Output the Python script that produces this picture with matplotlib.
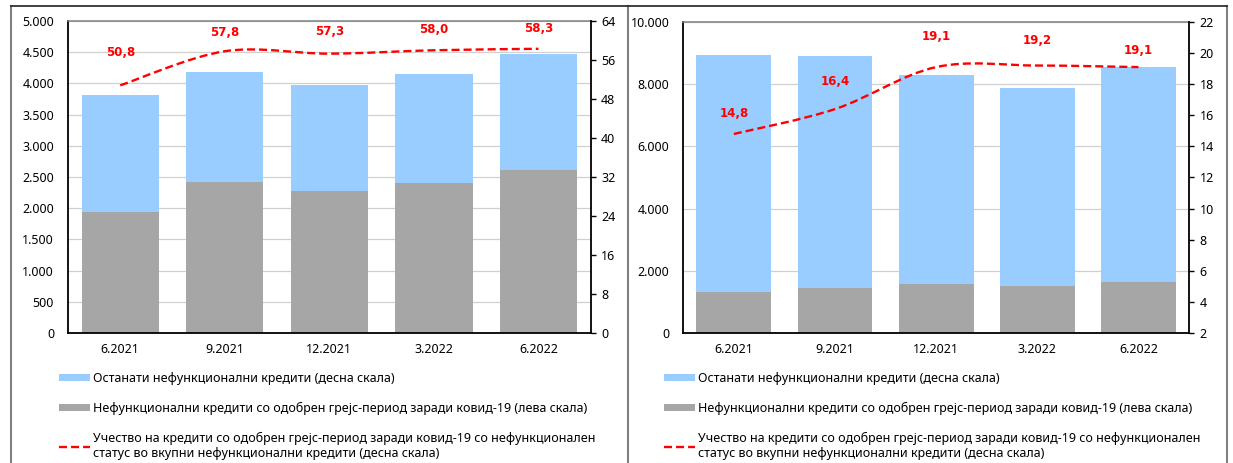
import matplotlib.pyplot as plt
from matplotlib.path import Path
from matplotlib.patches import PathPatch, Patch
from matplotlib.lines import Line2D
from matplotlib.ticker import FuncFormatter, MultipleLocator

plt.rcParams['font.family'] = ['Noto Sans', 'DejaVu Sans']

quarters = ['6.2021', '9.2021', '12.2021', '3.2022', '6.2022']

# лев график
covid_npl_1 = [1935, 2418, 2280, 2408, 2607]
other_npl_1 = [1874, 1765, 1699, 1743, 1864]
share_1 = [50.8, 57.8, 57.3, 58.0, 58.3]

# десен график
covid_npl_2 = [1323, 1461, 1585, 1511, 1632]
other_npl_2 = [7616, 7446, 6711, 6357, 6911]
share_2 = [14.8, 16.4, 19.1, 19.2, 19.1]

legend_labels = [
    'Останати нефункционални кредити (десна скала)',
    'Нефункционални кредити со одобрен грејс-период заради ковид-19 (лева скала)',
    'Учество на кредити со одобрен грејс-период заради ковид-19 со нефункционален\n'
    'статус во вкупни нефункционални кредити (десна скала)',
]

BLUE = '#99ccff'
GRAY = '#a6a6a6'
RED = '#ff0000'
W, H = 1233, 463
DASH = (0, (3.4, 1.7))


def thousands(v, pos):
    return f'{int(round(v)):,}'.replace(',', '.')


def smooth_path(xs, ys):
    # bezier smoothing like the spreadsheet "smoothed line"
    n = len(xs)
    pts = list(zip(xs, ys))
    verts = [pts[0]]
    codes = [Path.MOVETO]
    for i in range(n - 1):
        p0 = pts[i - 1] if i > 0 else pts[i]
        p1 = pts[i]
        p2 = pts[i + 1]
        p3 = pts[i + 2] if i + 2 < n else pts[i + 1]
        c1 = (p1[0] + (p2[0] - p0[0]) / 6, p1[1] + (p2[1] - p0[1]) / 6)
        c2 = (p2[0] - (p3[0] - p1[0]) / 6, p2[1] - (p3[1] - p1[1]) / 6)
        verts += [c1, c2, p2]
        codes += [Path.CURVE4] * 3
    return Path(verts, codes)


def draw_panel(ax, covid, other, share, lmax, lstep, rmin, rmax, rstep,
               offsets, legend_x):
    x = list(range(len(quarters)))
    ax.bar(x, covid, width=0.74, color=GRAY, zorder=2)
    ax.bar(x, other, width=0.74, bottom=covid, color=BLUE, zorder=2)
    ax.set_xlim(-0.5, len(quarters) - 0.5)
    ax.set_ylim(0, lmax)
    ax.yaxis.set_major_locator(MultipleLocator(lstep))
    ax.yaxis.set_major_formatter(FuncFormatter(thousands))
    ax.yaxis.grid(True, color='#d0d0d0', lw=0.9)
    ax.set_axisbelow(True)
    ax.set_xticks(x, quarters)
    ax.tick_params(axis='x', length=0, pad=7, labelsize=9)
    ax.tick_params(axis='y', length=0, pad=10, labelsize=9)
    for s in ('left', 'bottom'):
        ax.spines[s].set_color('black')
        ax.spines[s].set_linewidth(1.3)
    ax.spines['top'].set_color('#808080')
    ax.spines['top'].set_linewidth(1.1)
    ax.spines['right'].set_visible(False)

    ax2 = ax.twinx()
    ax2.set_ylim(rmin, rmax)
    ax2.yaxis.set_major_locator(MultipleLocator(rstep))
    ax2.tick_params(axis='y', length=3.5, width=1, pad=4, labelsize=9)
    for s in ('left', 'bottom', 'top'):
        ax2.spines[s].set_visible(False)
    ax2.spines['right'].set_color('black')
    ax2.spines['right'].set_linewidth(1.3)

    ax2.add_patch(PathPatch(smooth_path(x, share), fill=False, edgecolor=RED,
                            lw=1.7, linestyle=DASH, capstyle='butt'))
    for xi, v, off in zip(x, share, offsets):
        ax2.annotate(f'{v:.1f}'.replace('.', ','), (xi, v), xytext=(0, off),
                     textcoords='offset pixels', ha='center', va='center',
                     color=RED, fontsize=8.5, fontweight='bold',
                     family=['DejaVu Sans'])

    handles = [
        Patch(facecolor=BLUE, edgecolor='none'),
        Patch(facecolor=GRAY, edgecolor='none'),
        Line2D([], [], color=RED, lw=1.7, linestyle=DASH),
    ]
    ax.legend(handles, legend_labels, loc='upper left',
              bbox_to_anchor=(legend_x / W, 1 - 372 / H),
              bbox_transform=fig.transFigure, frameon=False, fontsize=9.0,
              handlelength=2.5, handleheight=0.55, handletextpad=0.25,
              labelspacing=1.35, borderpad=0, borderaxespad=0)


fig = plt.figure(figsize=(W / 100, H / 100), dpi=100)
ax_l = fig.add_axes([68 / W, 1 - 333 / H, (590.7 - 68) / W, (333 - 21) / H])
ax_r = fig.add_axes([683.3 / W, 1 - 333 / H, (1189 - 683.3) / W, (333 - 22) / H])

draw_panel(ax_l, covid_npl_1, other_npl_1, share_1, 5000, 500, 0, 64, 8,
           [32.6, 19, 21.7, 21, 20.5], 59)
draw_panel(ax_r, covid_npl_2, other_npl_2, share_2, 10000, 2000, 2, 22, 2,
           [20, 28, 31, 25, 17], 664)

# рамки околу двата графика
frame = dict(transform=fig.transFigure, color='#808080', lw=1.5)
fig.add_artist(Line2D([11 / W, 11 / W], [0, 1 - 5.5 / H], **frame))
fig.add_artist(Line2D([628 / W, 628 / W], [0, 1 - 5.5 / H], **frame))
fig.add_artist(Line2D([1227 / W, 1227 / W], [0, 1 - 5.5 / H], **frame))
fig.add_artist(Line2D([11 / W, 1227 / W], [1 - 5.5 / H, 1 - 5.5 / H],
                      transform=fig.transFigure, color='#202020', lw=1.2))

fig.savefig('out.png', dpi=100)
